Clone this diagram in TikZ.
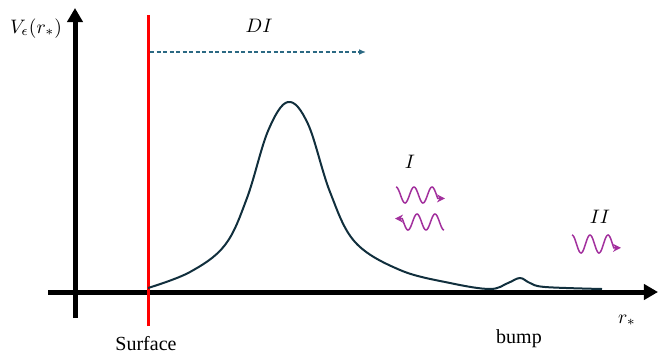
\documentclass[tikz,border=0pt]{standalone}
\usepackage{fontspec}
\setmainfont{Liberation Serif}
\usepackage{amsmath}
\usepackage{tikz}
\usetikzlibrary{arrows.meta,positioning}
\definecolor{WellNavy}{HTML}{112F3D}
\definecolor{WellTeal}{HTML}{2B6983}
\definecolor{WellRed}{HTML}{FF0000}
\definecolor{WellMagenta}{HTML}{A2309D}
\newcommand{\bigmath}[1]{\scalebox{1.95}{$#1$}}
\tikzset{
  axis/.style={-{Triangle[length=5mm, width=5.4mm]}, line width=5pt, draw=black},
  surfaceline/.style={line width=3pt, draw=WellRed},
  potential/.style={line width=2pt, draw=WellNavy, line join=round},
  wavelet/.style={-{Stealth[length=2.8mm, width=2.8mm]}, line width=1.5pt, draw=WellMagenta},
  dirwire/.style={-{Latex[length=2.4mm, width=2mm]}, line width=1.3pt, dashed, dash pattern=on 4pt off 2.5pt, draw=WellTeal},
  tag/.style={anchor=base, inner sep=0pt, font=\fontsize{20}{24}\selectfont},
  mathtag/.style={anchor=base, inner sep=0pt}
}
\begin{document}
\begin{tikzpicture}[x=1pt, y=-1pt]
  \useasboundingbox (0,0) rectangle (658,354);
  % axes
  \coordinate (ybot) at (75,318);
  \coordinate (ytop) at (75,8);
  \coordinate (xleft) at (48,292);
  \coordinate (xright) at (658,292);
  \draw[axis] (ybot) -- (ytop);
  \draw[axis] (xleft) -- (xright);
  % surface
  \coordinate (surftop) at (148,15);
  \coordinate (surfbot) at (148,326);
  \draw[surfaceline] (surfbot) -- (surftop);
  \coordinate (distart) at (150,52);
  \coordinate (diend) at (366,52);
  \draw[dirwire] (distart) -- (diend);
  % potential with bump
  \draw[potential] plot[smooth, tension=0.6] coordinates {
    (148,288) (190,272) (225,245) (247,198) (268,131) (288,102) (308,124)
    (330,192) (355,242) (400,270) (450,283) (490,289) (508,283) (520,278)
    (530,283) (545,287) (602,289)};
  % waves
  \draw[wavelet] plot[domain=0:2.32, samples=60, variable=\t]
    ({396+18*\t}, {195-8*cos(360*\t)}) -- (445,198.5);
  \draw[wavelet] plot[domain=0:2.32, samples=60, variable=\t]
    ({444-18*\t}, {222+8*cos(360*\t)}) -- (395,218.5);
  \draw[wavelet] plot[domain=0:2.32, samples=60, variable=\t]
    ({572+18*\t}, {244-9*cos(360*\t)}) -- (621,247.8);
  % labels
  \node[mathtag] (vlabel) at (36,33) {\bigmath{V_\epsilon(r_*)}};
  \node[mathtag] (dilabel) at (259,32) {\bigmath{DI}};
  \node[mathtag] (ilabel) at (410,168) {\bigmath{I}};
  \node[mathtag] (iilabel) at (600,223) {\bigmath{II}};
  \node[mathtag] (rlabel) at (627,323) {\bigmath{r_*}};
  \node[tag] (bumplabel) at (519,343) {bump};
  \node[tag] (surfacelabel) at (146,350) {Surface};
\end{tikzpicture}
\end{document}
